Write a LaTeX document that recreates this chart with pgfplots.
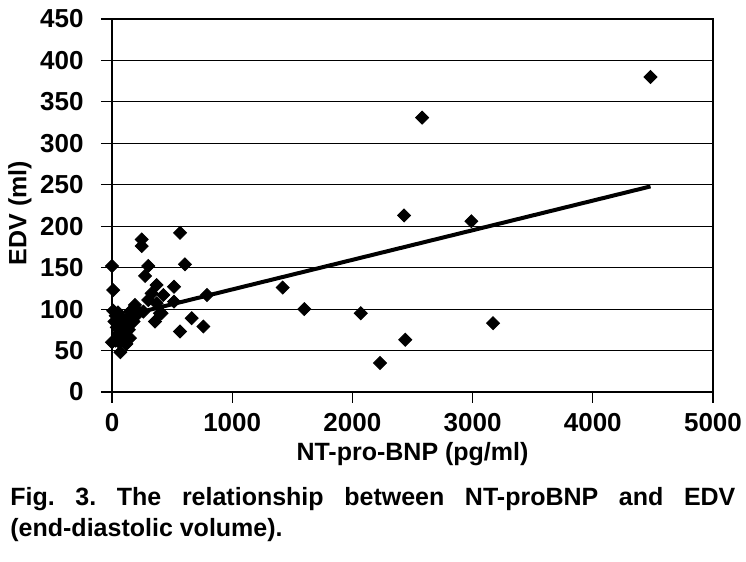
\documentclass[border=0pt]{standalone}
\usepackage{fontspec}
\setmainfont{Liberation Sans}
\usepackage{pgfplots}
\pgfplotsset{compat=1.18}
\begin{document}
\frenchspacing
\fontsize{12}{15}\selectfont\bfseries
\begin{tikzpicture}
\path[use as bounding box] (-56pt,-85pt) rectangle (317pt,196pt);
\begin{axis}[
  at={(0,0)}, anchor=south west,
  scale only axis, width=300.5pt, height=186.5pt,
  xmin=0, xmax=5000, ymin=0, ymax=450,
  xtick={0,1000,...,5000}, ytick={0,50,...,450},
  xtick pos=bottom, ytick pos=left,
  tick align=outside, major tick length=5.5pt,
  tick style={black, line width=0.6pt},
  axis line style={line width=0.6pt},
  ymajorgrids, grid style={black, line width=0.6pt},
  /pgf/number format/assume math mode=true,
  /pgf/number format/set thousands separator={},
  ticklabel style={font=\fontsize{13}{15}\selectfont\bfseries},
  yticklabel style={xshift=-4.5pt},
  xticklabel style={yshift=-1pt},
  clip=false,
]
\addplot[only marks, mark=square*, mark size=2.3pt, mark options={rotate=45, fill=black, draw=black}] coordinates {
(4480,380) (2580,331) (2430,213) (2990,206) (3170,83) (2440,63) (2230,35)
(2070,95) (1600,100) (1420,126) (790,117)
(371,129) (516,127) (427,117) (516,109) (371,107) (399,95) (358,85)
(663,89) (760,79) (566,73)
(566,192) (247,184) (247,176) (302,152) (607,154) (275,140) (330,119)
(191,105) (302,111) (261,97) (413,95)
(0,152) (10,123)
(10,98) (30,92) (50,96) (20,85) (60,88) (80,90) (100,85) (40,78) (70,75)
(90,80) (120,78) (50,70) (80,68) (110,72) (140,75) (30,62) (60,60) (100,64)
(150,65) (0,60) (70,48) (120,58) (170,90) (150,97) (200,100) (220,95) (180,85) (130,87)
};
\addplot[black, line width=2pt] coordinates {(0,88) (4480,248)};
\end{axis}
\node[font=\fontsize{12.5}{15}\selectfont\bfseries] at (150.25pt,-31pt) {NT-pro-BNP (pg/ml)};
\node[rotate=90, font=\fontsize{12.5}{15}\selectfont\bfseries] at (-46pt,89.5pt) {EDV (ml)};
\node[anchor=north west, text width=362.5pt, align=justify, inner sep=0pt,
      font=\fontsize{12.5}{15.5}\selectfont\bfseries] at (-51pt,-47.5pt)
  {Fig. 3. The relationship between NT-proBNP and EDV\linebreak (end-diastolic volume).};
\end{tikzpicture}
\end{document}
